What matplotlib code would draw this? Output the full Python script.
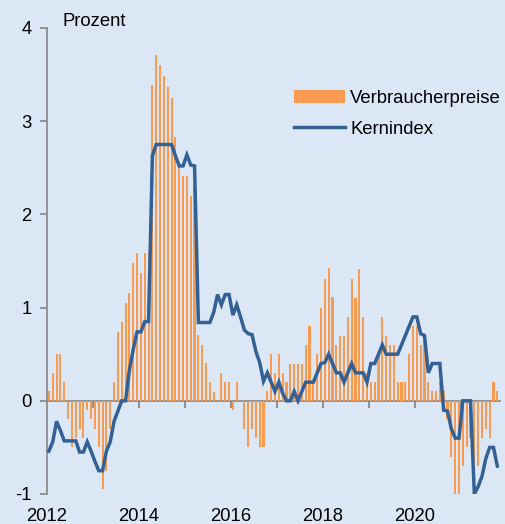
import numpy as np
import matplotlib
matplotlib.use("Agg")
import matplotlib.pyplot as plt

# monthly values, Jan 2012 .. Oct 2021
verbraucherpreise = [
    0.1, 0.3, 0.5, 0.5, 0.2, -0.2, -0.5, -0.4, -0.3, -0.4, -0.1, -0.2,  # 2012
    -0.3, -0.5, -0.95, -0.75, -0.3, 0.2, 0.74, 0.85, 1.05, 1.16, 1.48, 1.59,  # 2013
    1.37, 1.59, 1.59, 3.39, 3.71, 3.6, 3.49, 3.37, 3.25, 2.83, 2.51, 2.41,  # 2014
    2.41, 2.2, 2.3, 0.71, 0.6, 0.41, 0.2, 0.09, 0.0, 0.3, 0.2, 0.2,  # 2015
    -0.1, 0.2, 0.0, -0.3, -0.5, -0.3, -0.4, -0.5, -0.5, 0.1, 0.5, 0.3,  # 2016
    0.5, 0.3, 0.2, 0.4, 0.4, 0.4, 0.4, 0.6, 0.8, 0.2, 0.5, 1.0,  # 2017
    1.31, 1.42, 1.11, 0.6, 0.7, 0.7, 0.9, 1.31, 1.1, 1.41, 0.9, 0.3,  # 2018
    0.2, 0.2, 0.5, 0.9, 0.7, 0.6, 0.6, 0.2, 0.2, 0.2, 0.5, 0.8,  # 2019
    0.8, 0.6, 0.7, 0.2, 0.1, 0.1, 0.2, 0.1, -0.2, -0.6, -1.0, -1.03,  # 2020
    -0.7, -0.5, -0.4, -1.0, -0.7, -0.4, -0.3, -0.4, 0.2, 0.1,  # 2021
]

kernindex = [
    -0.54, -0.44, -0.22, -0.32, -0.43, -0.43, -0.43, -0.43, -0.55, -0.55, -0.44, -0.54,
    -0.65, -0.75, -0.75, -0.54, -0.44, -0.22, -0.11, 0.0, 0.0, 0.33, 0.55, 0.74,
    0.74, 0.85, 0.85, 2.63, 2.75, 2.75, 2.75, 2.75, 2.75, 2.63, 2.52, 2.52,
    2.64, 2.53, 2.52, 0.84, 0.84, 0.84, 0.84, 0.95, 1.14, 1.03, 1.14, 1.14,
    0.92, 1.03, 0.9, 0.76, 0.72, 0.71, 0.53, 0.41, 0.21, 0.3, 0.2, 0.1,
    0.2, 0.08, 0.0, 0.0, 0.1, 0.0, 0.1, 0.2, 0.2, 0.2, 0.3, 0.4,
    0.41, 0.5, 0.4, 0.3, 0.3, 0.2, 0.3, 0.4, 0.3, 0.3, 0.3, 0.2,
    0.4, 0.4, 0.5, 0.6, 0.5, 0.5, 0.5, 0.5, 0.6, 0.7, 0.8, 0.9,
    0.9, 0.72, 0.7, 0.3, 0.4, 0.4, 0.4, -0.1, -0.11, -0.3, -0.4, -0.4,
    0.0, 0.0, 0.0, -1.0, -0.92, -0.81, -0.62, -0.5, -0.5, -0.7,
]

year_labels = ["2012", "2014", "2016", "2018", "2020"]
y_ticks = [-1, 0, 1, 2, 3, 4]

BG = "#dce7f6"
ORANGE = "#f89b50"
BLUE = "#336095"
GREY = "#8c8c8c"

plt.rcParams["font.family"] = ["Liberation Sans", "DejaVu Sans"]
plt.rcParams["font.size"] = 13.3

fig = plt.figure(figsize=(5.06, 5.24), dpi=100, facecolor=BG)
ax = fig.add_axes([47 / 506, 30 / 524, 453 / 506, 466 / 524])
ax.set_facecolor(BG)

x = np.arange(len(verbraucherpreise)) + 0.5
bars = ax.bar(x, verbraucherpreise, width=0.55, color=ORANGE,
              label="Verbraucherpreise", zorder=2)
line, = ax.plot(x, kernindex, color=BLUE, linewidth=2.5, label="Kernindex",
                zorder=3, solid_joinstyle="miter")

ax.set_xlim(0, 118.2)
ax.set_ylim(-1, 4)

# y axis
ax.set_yticks(y_ticks)
ax.set_yticklabels([str(v) for v in y_ticks])
ax.tick_params(axis="y", length=5, width=1.3, color=GREY, pad=6)
ax.spines["left"].set_color(GREY)
ax.spines["left"].set_linewidth(1.3)
for s in ["top", "right", "bottom"]:
    ax.spines[s].set_visible(False)

# year labels at the bottom, tick marks on the zero line
ax.set_xticks(np.arange(0, 120, 24))
ax.set_xticklabels(year_labels)
ax.tick_params(axis="x", length=0, pad=10)

zero = ax.secondary_xaxis(0.2)
zero.set_xticks(np.arange(12, 118, 12))
zero.set_xticklabels([])
zero.tick_params(axis="x", length=5, width=1.3, color=GREY)
zero.spines["bottom"].set_color(GREY)
zero.spines["bottom"].set_linewidth(1.3)

fig.text(63 / 506, 1 - 22 / 524, "Prozent", ha="left", va="center")

ax.legend([bars, line], ["Verbraucherpreise", "Kernindex"],
          loc="upper left", bbox_to_anchor=(294 / 506, 1 - 90 / 524),
          bbox_transform=fig.transFigure, frameon=False,
          handlelength=2.75, handletextpad=0.3, labelspacing=0.75,
          borderaxespad=0, borderpad=0)

fig.savefig("out.png", dpi=100, facecolor=BG)
